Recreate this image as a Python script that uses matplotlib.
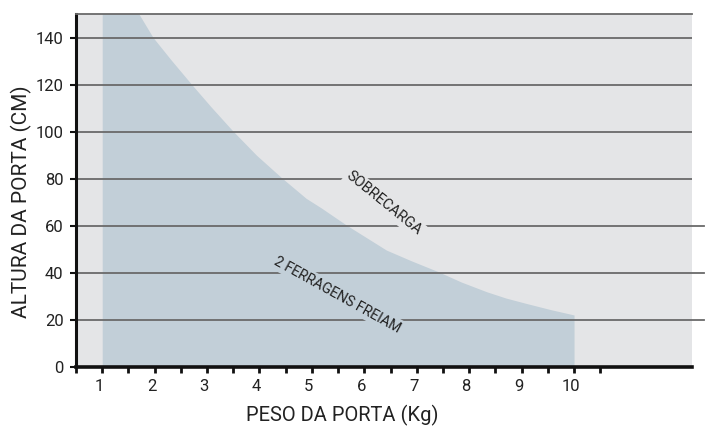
import matplotlib
matplotlib.use("Agg")
import matplotlib.pyplot as plt
import matplotlib.transforms as mtransforms
from matplotlib.ticker import FixedLocator

# ---- data ----
curve_x = [1.0, 1.70, 1.97, 2.32, 2.70, 3.08, 3.49, 3.94, 4.42, 4.89, 5.18, 5.66, 6.42, 6.90,
           7.40, 7.85, 8.33, 8.70, 9.09, 9.55, 10.0]
curve_y = [155, 150, 140, 130.3, 120.2, 110.4, 100.3, 90.0, 80.4, 71.6, 67.5, 60.2, 49.6, 45.0,
           40.5, 36.0, 31.9, 29.2, 26.9, 24.3, 22.0]
x_major = [1, 2, 3, 4, 5, 6, 7, 8, 9, 10]
x_labels = ["1", "2", "3", "4", "5", "6", "7", "8", "9", "10"]
x_minor = [0.5, 1.5, 2.5, 3.5, 4.5, 5.5, 6.5, 7.5, 8.5, 9.5, 10.5]
y_ticks = [0, 20, 40, 60, 80, 100, 120, 140]
grid_long = [20, 40, 60]
grid_short = [80, 100, 120, 140]
label_over = "SOBRECARGA"
label_ok = "2 FERRAGENS FREIAM"
xlabel = "PESO DA PORTA (Kg)"
ylabel = "ALTURA DA PORTA (CM)"

BG = "#e4e5e7"
FILL = "#c2cfd8"
GRID = "#6a6a6a"
W, H = 709, 428

fig = plt.figure(figsize=(W / 100, H / 100), dpi=100)
fig.patch.set_facecolor("white")
ax_l, ax_r, ax_b, ax_t = 76, 692, 366.7, 14
ax = fig.add_axes([ax_l / W, 1 - ax_b / H, (ax_r - ax_l) / W, (ax_b - ax_t) / H])
ax.set_facecolor(BG)
ax.set_xlim(0.5, 12.25)
ax.set_ylim(0, 150)

ax.fill_between(curve_x, 0, curve_y, color=FILL, linewidth=0, zorder=1)

ext = (704 - ax_l) / (ax_r - ax_l)
for y in grid_long:
    ax.axhline(y, xmin=0, xmax=ext, color=GRID, lw=1.3, zorder=2, clip_on=False)
for y in grid_short:
    ax.axhline(y, xmin=0, xmax=1, color=GRID, lw=1.3, zorder=2)

ax.spines["right"].set_visible(False)
ax.spines["top"].set_color(GRID)
ax.spines["top"].set_linewidth(1.3)
ax.spines["left"].set_color("#111111")
ax.spines["left"].set_linewidth(2.2)
ax.spines["bottom"].set_color("#111111")
ax.spines["bottom"].set_linewidth(2.6)

tick_font = ["Roboto", "DejaVu Sans"]
ax.xaxis.set_major_locator(FixedLocator(x_major))
ax.xaxis.set_minor_locator(FixedLocator(x_minor))
ax.set_xticklabels(x_labels, family=tick_font, fontsize=12, color="#222222")
ax.set_yticks(y_ticks)
ax.set_yticklabels([str(v) for v in y_ticks], family=tick_font, fontsize=12, color="#222222")
ax.tick_params(axis="x", which="both", direction="out", length=4, width=2, color="#111111", pad=5)
ax.tick_params(axis="y", which="major", direction="out", length=4, width=1.5, color="#111111", pad=5)

offset = mtransforms.ScaledTranslation(-3 / 100, 0, fig.dpi_scale_trans)
for lab in ax.get_xticklabels():
    lab.set_transform(lab.get_transform() + offset)

txt_font = ["Roboto", "DejaVu Sans"]
ax.text(6.38, 69.5, label_over, rotation=-39, rotation_mode="anchor", ha="center", va="center",
        fontsize=10.5, family=txt_font, color="#222222", zorder=3,
        bbox=dict(facecolor=BG, edgecolor="none", pad=1.5))
ax.text(5.49, 30.6, label_ok, rotation=-29, rotation_mode="anchor", ha="center", va="center",
        fontsize=10.2, family=txt_font, color="#222222", zorder=3,
        bbox=dict(facecolor=FILL, edgecolor="none", pad=1.5))

fig.text(21 / W, 1 - 201.5 / H, ylabel, rotation=90, ha="center", va="center",
         fontsize=15, family=["Roboto", "DejaVu Sans"], color="#222222")
fig.text(342 / W, 1 - 421.7 / H, xlabel, ha="center", va="baseline",
         fontsize=14.5, family=["Roboto", "DejaVu Sans"], color="#222222")

fig.savefig("out.png", dpi=100)
